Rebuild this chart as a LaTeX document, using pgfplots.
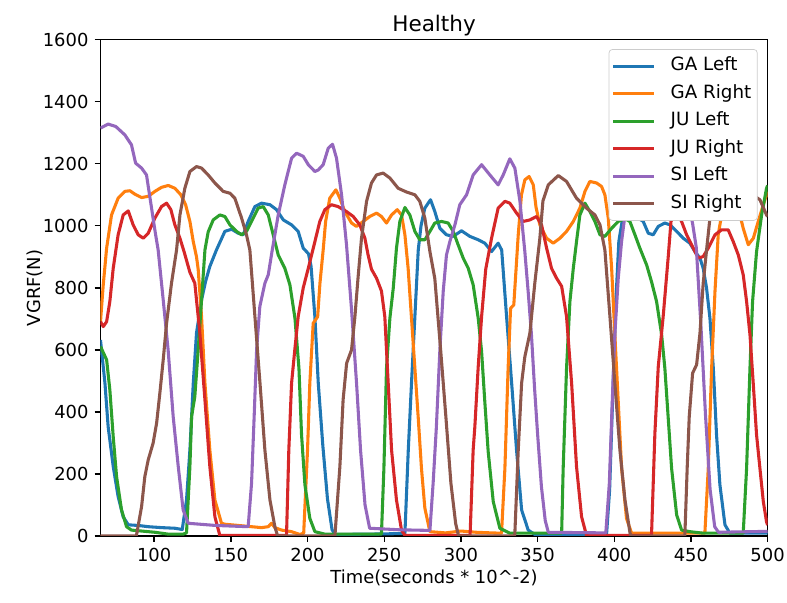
\documentclass[border=0pt]{standalone}
\usepackage{fontspec}
\setmainfont{DejaVu Sans}
\usepackage{pgfplots}
\pgfplotsset{compat=1.18}

\definecolor{c0}{HTML}{1F77B4}
\definecolor{c1}{HTML}{FF7F0E}
\definecolor{c2}{HTML}{2CA02C}
\definecolor{c3}{HTML}{D62728}
\definecolor{c4}{HTML}{9467BD}
\definecolor{c5}{HTML}{8C564B}
\definecolor{legframe}{gray}{0.8}

\begin{document}
\begin{tikzpicture}
\begin{axis}[
  scale only axis,
  width=390.6pt, height=290.6pt,
  xmin=65, xmax=500, ymin=0, ymax=1600,
  xtick={100,150,...,500},
  ytick={0,200,...,1600},
  scaled ticks=false,
  /pgf/number format/assume math mode=true,
  /pgf/number format/1000 sep={},
  tick align=outside,
  major tick length=3.5pt,
  tick style={line width=0.8pt, black},
  axis line style={line width=0.8pt},
  xtick pos=bottom, ytick pos=left,
  tick label style={font=\fontsize{10.5}{12}\selectfont},
  label style={font=\fontsize{10.5}{12}\selectfont},
  title={Healthy},
  every axis title/.style={at={(0.5,1)}, anchor=base, yshift=5pt, font=\fontsize{12.6}{14}\selectfont},
  xlabel={Time(seconds * 10\textasciicircum-2)},
  xlabel style={at={(axis description cs:0.5,-0.0847)}, anchor=center},
  ylabel={VGRF(N)},
  ylabel style={at={(axis description cs:-0.098,0.5)}, anchor=center, rotate=0},
  every axis plot/.append style={line width=1.8pt, line join=round},
  legend cell align=left,
  legend image code/.code={\draw[#1] (0pt,0pt) -- (24pt,0pt);},
  legend style={at={(0.985,0.981)}, anchor=north east,
    draw=legframe, rounded corners=2pt, fill=white,
    font=\fontsize{10.7}{12}\selectfont,
    inner xsep=1.5pt, inner ysep=2.5pt, row sep=1.5pt,
    nodes={inner xsep=2pt, inner ysep=2pt, text height=8pt, text depth=2.6pt},
    /tikz/every odd column/.append style={column sep=6.8pt}},
]
% GA Left
\addplot[c0] coordinates {
(65,632) (67.9,493) (70,352) (73.3,224) (76.5,127) (79.8,62) (83.1,36) (89.6,34) (96.1,30) (104.8,27) (113.5,25) (118.3,21)
(121.1,116) (123.3,277) (125.5,493) (127.6,654) (130.9,761) (133.5,820) (136.3,869) (140.6,922) (146.1,982) (150.5,989)
(154.8,976) (158.1,971) (161.3,1014) (165.7,1062) (170,1073) (175.5,1068) (179.8,1052) (184.2,1019) (189.6,1003)
(193.9,982) (197.2,928) (200.6,910) (202.3,870) (204.8,707) (207,493) (210,290) (213,120) (216,20) (218,5)
(240,6) (263.5,8) (265.7,277) (267.8,493) (270,707) (272.2,922) (274,1000) (276.5,1057) (280.2,1084) (283,1046)
(286.3,992) (290.6,971) (295,966) (300.4,984) (305.8,966) (311.3,955) (315.6,944) (320,917) (324.3,944)
(326.6,922) (329.8,707) (333.1,493) (336.3,277) (339.6,84) (343.9,19) (348.2,5) (395,6) (397,150) (399,450)
(401,750) (403,950) (406,1040) (410,1050) (414,1030) (418.9,1014) (422.2,976) (425.4,971) (428.7,998) (433,1009)
(436.3,1003) (440.7,982) (445,960) (449.3,944) (452.6,917) (455.9,896) (458,863) (460.2,799) (462.4,702)
(464.6,541) (466.7,326) (468.9,165) (472.2,36) (475.4,9) (500,9)
};
\addlegendentry{GA Left}
% GA Right
\addplot[c1] coordinates {
(65,691) (66.8,810) (69,928) (72.2,1035) (76.5,1089) (80.9,1111) (84.2,1113) (87.4,1102) (91.8,1091) (96.1,1095)
(100.5,1111) (104.8,1124) (109.2,1130) (113.5,1121) (117.4,1100) (120.5,1068) (123.3,1014) (125.5,949) (127.6,900)
(128.7,860) (130.9,707) (133.1,493) (136.3,277) (139.6,116) (143.9,41) (146.1,38) (154.8,34) (163.5,30) (170,27)
(174.4,30) (176.5,41) (178.7,27) (183.1,19) (189.6,14) (195,5) (197.5,9) (200,277) (201.5,493) (203.7,686)
(206.6,707) (208.1,815) (210.2,922) (211.8,1014) (214.5,1089) (218.5,1116) (221.1,1089) (224.3,1046) (228.7,1009)
(231.9,998) (236.3,1014) (240.6,1030) (245,1041) (248.2,1030) (251.5,1009) (254.8,1035) (258.5,1052) (261.3,1035)
(263.5,971) (265.6,863) (267.8,702) (270,541) (272.2,380) (274.3,218) (276.5,90) (279.8,14) (290,10) (300,16)
(310,12) (320,10) (326.5,9) (328.7,218) (330.8,541) (332.4,734) (334.5,745) (337.4,971) (339.5,1100) (341.7,1148)
(344.5,1159) (347.2,1132) (349,1060) (351.5,1003) (355.9,960) (360.2,944) (364.6,960) (368.9,982) (373.3,1014)
(377.6,1057) (380.9,1111) (384.1,1143) (388.5,1138) (391.7,1127) (393.9,1100) (396.1,1025) (398.3,863) (400.4,649)
(402.6,433) (404.8,218) (408,57) (411.3,9) (459.1,9) (461.3,218) (463.5,541) (465.7,790) (467.8,971) (470,1035)
(473,1120) (476,1150) (479,1110) (480.9,1057) (484.1,992) (487.4,939) (490.7,960) (493.9,1014) (497.2,1068)
(499.3,1100) (500,1110)
};
\addlegendentry{GA Right}
% JU Left
\addplot[c2] coordinates {
(65,611) (69,568) (71.1,471) (73.3,320) (75.5,191) (78.7,84) (82,30) (85.2,19) (91.8,16) (100.5,12) (109.2,6)
(118.9,6) (121.1,10) (123.3,224) (124.4,385) (126.5,449) (128.7,600) (130.9,761) (133.1,922) (135.2,980)
(138.5,1019) (142.8,1035) (146.1,1030) (149.4,1003) (153.7,982) (157,971) (160.2,982) (163.5,1014) (167.8,1057)
(171.1,1062) (174.4,1035) (177.6,971) (180.9,906) (185.2,863) (188.5,810) (191.8,702) (194.4,541) (196.1,326)
(198.3,165) (201.5,57) (204.8,14) (211.3,6) (248.2,6) (249.8,218) (251.5,541) (253.7,702) (255.9,799) (258,928)
(260.2,1014) (263.5,1059) (266.7,1035) (270,982) (273.2,955) (276.5,955) (279.8,982) (283,1009) (287.4,1014)
(291.7,1009) (295,982) (298.2,939) (301.5,896) (304.8,863) (308,810) (311.3,702) (313.5,595) (315.6,433)
(317.8,272) (321.1,111) (325.4,25) (331.9,9) (365.7,9) (366.7,218) (368.9,541) (371.1,756) (373.3,863)
(375.4,949) (377.6,1035) (380.9,1073) (384.1,1046) (387.4,1014) (390.7,971) (393.9,966) (398.3,992) (402.6,1014)
(407,1023) (410.2,1014) (413.5,971) (416.7,928) (421.1,874) (424.3,820) (427.6,756) (430.9,649) (433,541)
(435.2,380) (437.4,218) (440.7,68) (443.9,19) (449.3,14) (458,9) (484.1,9) (486.3,218) (488.5,541) (490.2,756)
(492.8,917) (496.1,1035) (499.3,1121) (500,1130)
};
\addlegendentry{JU Left}
% JU Right
\addplot[c3] coordinates {
(65,691) (66.8,675) (69,691) (71.1,756) (73.3,863) (76.5,971) (79.8,1035) (83.1,1048) (86.3,1003) (89.6,971)
(92.9,960) (96.1,976) (100.5,1025) (104.8,1062) (108.1,1073) (110.9,1052) (113.5,1003) (116.8,960) (119.6,915)
(123.3,850) (126.5,815) (129.8,654) (133.1,439) (136.3,224) (139.6,62) (142.8,2) (186.3,2) (187.8,277)
(189.6,493) (191.7,600) (193.9,707) (197.2,800) (200.5,863) (204.8,949) (208,1014) (211.3,1052) (215.6,1068)
(219.9,1062) (225.4,1046) (229.8,1030) (234.1,1003) (237.4,960) (239.5,906) (241.7,860) (245,831) (248.2,790)
(250.4,707) (252.6,493) (254.8,277) (258,116) (261.3,19) (263.5,2) (306,2) (308,277) (309.1,352) (311.3,546)
(313.5,707) (316.2,860) (320,960) (324.3,1057) (328.7,1079) (331.9,1073) (336.3,1041) (340.6,1014) (345,1019)
(349.3,1030) (352.6,1003) (355.9,928) (359.1,863) (362.4,831) (365.7,805) (368.9,707) (372.2,493) (375.4,224)
(378.7,62) (381.9,2) (424.3,2) (426.5,331) (428.7,546) (431.9,707) (435.2,900) (437,1014) (439,1035) (441,1040)
(443.9,1014) (447.2,971) (451.5,928) (454.8,896) (458,901) (461.3,928) (465.7,971) (470,987) (474.3,987)
(477.6,949) (480.9,906) (484.1,842) (486.3,756) (488.5,649) (490.7,487) (492.8,326) (495,218) (497.2,111)
(499.3,46) (500,35)
};
\addlegendentry{JU Right}
% SI Left
\addplot[c4] coordinates {
(65,1315) (70,1328) (75,1320) (80.9,1293) (85.2,1261) (87.9,1202) (91.8,1186) (95,1164) (98.3,1057) (100.5,985)
(102.6,922) (105.9,761) (109.1,600) (112.4,385) (115.7,224) (118.9,84) (122.2,41) (140,34) (161.3,30) (163.5,170)
(165.2,385) (166.8,600) (168.9,740) (172.2,815) (174.4,842) (177,922) (180.9,1035) (185.2,1132) (189.6,1218)
(192.9,1234) (197.2,1224) (200.5,1197) (204.8,1175) (207,1180) (210.2,1197) (213.5,1250) (216.3,1263) (218.9,1218)
(222.2,1100) (225.4,940) (228.7,730) (232,490) (234.6,275) (237.5,100) (240.5,25) (260,20) (279.8,18) (281.9,170)
(284,350) (286.3,600) (288.5,790) (290.6,906) (292.8,949) (296.1,1003) (299.3,1068) (303.7,1100) (308,1164)
(313.5,1197) (318.9,1164) (324.3,1132) (327.6,1164) (331.9,1216) (335.2,1186) (338.5,1079) (341.7,917) (344,780)
(346,650) (348,480) (350,330) (352.5,160) (355,50) (357,12) (394.5,10) (396.8,170) (398.6,420) (400.4,650)
(402.6,830) (404.8,950) (407,1035) (410,1100) (415,1170) (420,1210) (425,1190) (430,1170) (435,1200) (440,1190)
(445,1130) (449,1050) (451,1010) (453.5,930) (456.5,680) (459.5,390) (462.5,150) (465.5,30) (468,12) (500,15)
};
\addlegendentry{SI Left}
% SI Right
\addplot[c5] coordinates {
(65,0) (88,0) (88.5,3) (91.8,95) (93.9,191) (96.1,245) (99.3,299) (101.6,364) (103.7,460) (105.9,568) (108.1,686)
(111.3,815) (114.6,922) (116.8,1035) (120,1121) (123.3,1175) (127.6,1191) (130.9,1186) (135.2,1164) (139.6,1138)
(145,1111) (149.4,1105) (152.6,1089) (157,1025) (160.2,971) (162.4,922) (165.7,707) (169,493) (172.2,277)
(175.5,116) (178.7,30) (180.5,0) (216.5,0) (217.9,3) (221.1,224) (223.2,439) (225.5,557) (228.7,600) (230.9,707)
(233,836) (235.2,960) (238.5,1079) (241.7,1138) (245,1164) (249.3,1170) (253.7,1154) (259.1,1121) (264.5,1109)
(270,1100) (273.2,1079) (276.5,1025) (279.8,917) (283,830) (286.8,600) (290.2,385) (293.5,170) (296.6,40)
(298.5,0) (335,0) (335.2,9) (337.4,277) (339.6,493) (341.7,578) (345,654) (348.2,815) (351.5,960) (353.5,1080)
(357,1132) (363.5,1162) (368.9,1143) (375.4,1089) (381.9,1057) (387.4,1035) (390.7,1003) (393.9,922) (397.2,707)
(400.4,493) (403.7,277) (407,116) (410.3,9) (411,0) (446,0) (446.1,9) (447.6,224) (448.9,385) (451.1,525)
(453.7,552) (455.9,654) (458,815) (460.2,922) (462.4,1025) (466,1100) (470,1140) (475,1150) (480,1140) (485,1120)
(490,1100) (495,1084) (499.3,1035) (500,1030)
};
\addlegendentry{SI Right}
\end{axis}
\pgfresetboundingbox
\useasboundingbox (-58.84pt,-38.7pt) rectangle (401.96pt,313.84pt);
\end{tikzpicture}
\end{document}
